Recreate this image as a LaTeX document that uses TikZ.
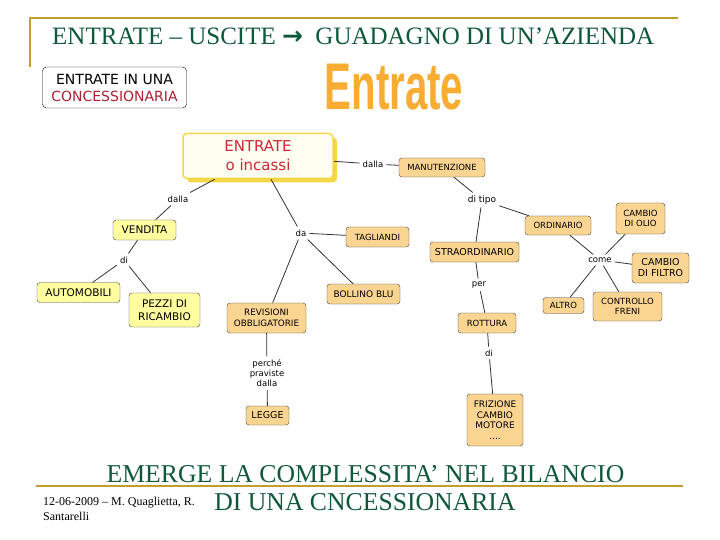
\documentclass[tikz,border=0pt]{standalone}
\usepackage{fontspec}
\setmainfont{Liberation Serif}
\newfontfamily\mapfont{DejaVu Sans}
\newfontfamily\bannerfont{Liberation Sans}
\usetikzlibrary{shadows}
\definecolor{titlegreen}{RGB}{16,88,58}
\definecolor{bargold}{RGB}{194,158,42}
\definecolor{mapred}{RGB}{205,40,55}
\definecolor{darkred}{RGB}{175,30,50}
\definecolor{boxyellow}{RGB}{255,255,160}
\definecolor{boxorange}{RGB}{250,212,145}
\definecolor{shadowyellow}{RGB}{245,215,70}
\definecolor{bannerorange}{RGB}{248,172,50}
\tikzstyle{yconcept} = [rectangle, rounded corners=3pt, draw=black!75, fill=boxyellow, align=center, font=\mapfont\fontsize{10.5}{12.5}\selectfont, inner xsep=4pt, inner ysep=2pt, minimum height=20pt]
\tikzstyle{oconcept} = [yconcept, fill=boxorange, font=\mapfont\fontsize{8.5}{10}\selectfont]
\tikzstyle{link} = [align=center, font=\mapfont\fontsize{8.5}{10.5}\selectfont, inner sep=3pt]
\tikzstyle{line} = [draw=black!80, line width=0.8pt]
\begin{document}
\begin{tikzpicture}[x=1pt, y=-1pt]
\useasboundingbox (0,0) rectangle (720,540);
%header
\draw[bargold, line width=2.5pt] (29,18) -- (678,18);
\draw[bargold, line width=2.5pt] (30,17) -- (30,67);
\node[anchor=base west, text=titlegreen, font=\fontsize{25}{25}\selectfont, inner sep=0pt] (title) at (52,45) {ENTRATE – USCITE {\mapfont\bfseries →}\ \ GUADAGNO DI UN’AZIENDA};
\node[draw, rounded corners=4pt, minimum width=144pt, minimum height=41pt, align=center, font=\mapfont\fontsize{14}{17}\selectfont] (cornerbox) at (114.5,87.5) {ENTRATE IN UNA\\\textcolor{darkred}{CONCESSIONARIA}};
\node[text=bannerorange, font=\bannerfont\bfseries\fontsize{66}{66}\selectfont] (banner) at (394,87) {\scalebox{0.61}[1]{Entrate}};
%nodes
\node[draw=shadowyellow, line width=1.5pt, fill=yellow!6, rounded corners=4pt, minimum width=150pt, minimum height=45pt, drop shadow={fill=shadowyellow, shadow xshift=4pt, shadow yshift=-4pt, opacity=1}, text=mapred, font=\mapfont\fontsize{15}{19}\selectfont, align=center] (entrate) at (258,156) {ENTRATE\\o incassi};
%vendita
\node[yconcept, minimum width=63pt] (vendita) at (144.5,230) {VENDITA};
\node[yconcept, minimum width=83pt] (automobili) at (78.5,292.5) {AUTOMOBILI};
\node[yconcept, minimum width=71pt, minimum height=34pt] (pezzi) at (164.5,310) {PEZZI DI\\RICAMBIO};
%da
\node[oconcept, minimum width=79pt, minimum height=30pt, font=\mapfont\fontsize{8.8}{11}\selectfont] (revisioni) at (266.5,318) {REVISIONI\\OBBLIGATORIE};
\node[oconcept, minimum width=63pt] (tagliandi) at (377.5,237) {TAGLIANDI};
\node[oconcept, minimum width=73pt, font=\mapfont\fontsize{9}{10}\selectfont] (bollino) at (363.5,294) {BOLLINO BLU};
\node[oconcept, minimum width=43pt, minimum height=19pt, font=\mapfont\fontsize{9.5}{10}\selectfont] (legge) at (267.5,415.5) {LEGGE};
%manutenzione
\node[oconcept, minimum width=86pt, minimum height=19pt] (manutenzione) at (442,167.5) {MANUTENZIONE};
\node[oconcept, minimum width=66pt, minimum height=19pt] (ordinario) at (558,225.5) {ORDINARIO};
\node[oconcept, minimum width=89pt, font=\mapfont\fontsize{9.5}{10}\selectfont] (straordinario) at (474.5,252) {STRAORDINARIO};
\node[oconcept, minimum width=58pt] (rottura) at (487,323) {ROTTURA};
\node[oconcept, minimum width=56pt, minimum height=52pt, font=\mapfont\fontsize{9}{10.5}\selectfont] (frizione) at (495,420) {FRIZIONE\\CAMBIO\\MOTORE\\....};
\node[oconcept, minimum width=49pt, minimum height=31pt] (olio) at (640.5,218.5) {CAMBIO\\DI OLIO};
\node[oconcept, minimum width=57pt, minimum height=30pt, font=\mapfont\fontsize{9.5}{11}\selectfont] (filtro) at (660.5,268) {CAMBIO\\DI FILTRO};
\node[oconcept, minimum width=69pt, minimum height=29pt] (freni) at (627.5,306.5) {CONTROLLO\\FRENI};
\node[oconcept, minimum width=41pt, minimum height=16pt] (altro) at (563.5,305.5) {ALTRO};
%links
\node[link] (dalla1) at (178,199) {dalla};
\node[link] (da) at (301,233) {da};
\node[link] (dalla2) at (373,164) {dalla};
\node[link] (di1) at (124,260) {di};
\node[link, font=\mapfont\fontsize{8.5}{10.2}\selectfont] (perche) at (267,373) {perché\\praviste\\dalla};
\node[link, font=\mapfont\fontsize{9}{10.5}\selectfont] (ditipo) at (482,200) {di tipo};
\node[link] (per) at (479,285) {per};
\node[link] (di2) at (489,353) {di};
\node[link] (come) at (600,260) {come};
%footer
\draw[bargold, line width=2.5pt] (36,486) -- (683,486);
\node[anchor=base, text=titlegreen, font=\fontsize{25.7}{26}\selectfont, inner sep=0pt] (emerge) at (365.5,482) {EMERGE LA COMPLESSITA’ NEL BILANCIO};
\node[anchor=base, text=titlegreen, font=\fontsize{25.7}{26}\selectfont, inner sep=0pt] (cncess) at (365,510) {DI UNA CNCESSIONARIA};
\node[anchor=base west, font=\fontsize{12}{14}\selectfont, inner sep=0pt] (date) at (43,505) {12-06-2009 – M. Quaglietta, R.};
\node[anchor=base west, font=\fontsize{12}{14}\selectfont, inner sep=0pt] (authors) at (43,520) {Santarelli};

%lines
\draw [line] (entrate) -- (dalla1);
\draw [line] (dalla1) -- (vendita);
\draw [line] (vendita) -- (di1);
\draw [line] (di1) -- (automobili);
\draw [line] (di1) -- (pezzi);
\draw [line] (entrate) -- (da);
\draw [line] (da) -- (tagliandi);
\draw [line] (da) -- (bollino);
\draw [line] (da) -- (revisioni);
\draw [line] (revisioni) -- (perche);
\draw [line] (perche) -- (legge);
\draw [line] (entrate) -- (dalla2);
\draw [line] (dalla2) -- (manutenzione);
\draw [line] (manutenzione) -- (ditipo);
\draw [line] (ditipo) -- (ordinario);
\draw [line] (ditipo) -- (straordinario);
\draw [line] (straordinario) -- (per);
\draw [line] (per) -- (rottura);
\draw [line] (rottura) -- (di2);
\draw [line] (di2) -- (frizione);
\draw [line] (ordinario) -- (come);
\draw [line] (come) -- (olio);
\draw [line] (come) -- (filtro);
\draw [line] (come) -- (freni);
\draw [line] (come) -- (altro);
\end{tikzpicture}
\end{document}
